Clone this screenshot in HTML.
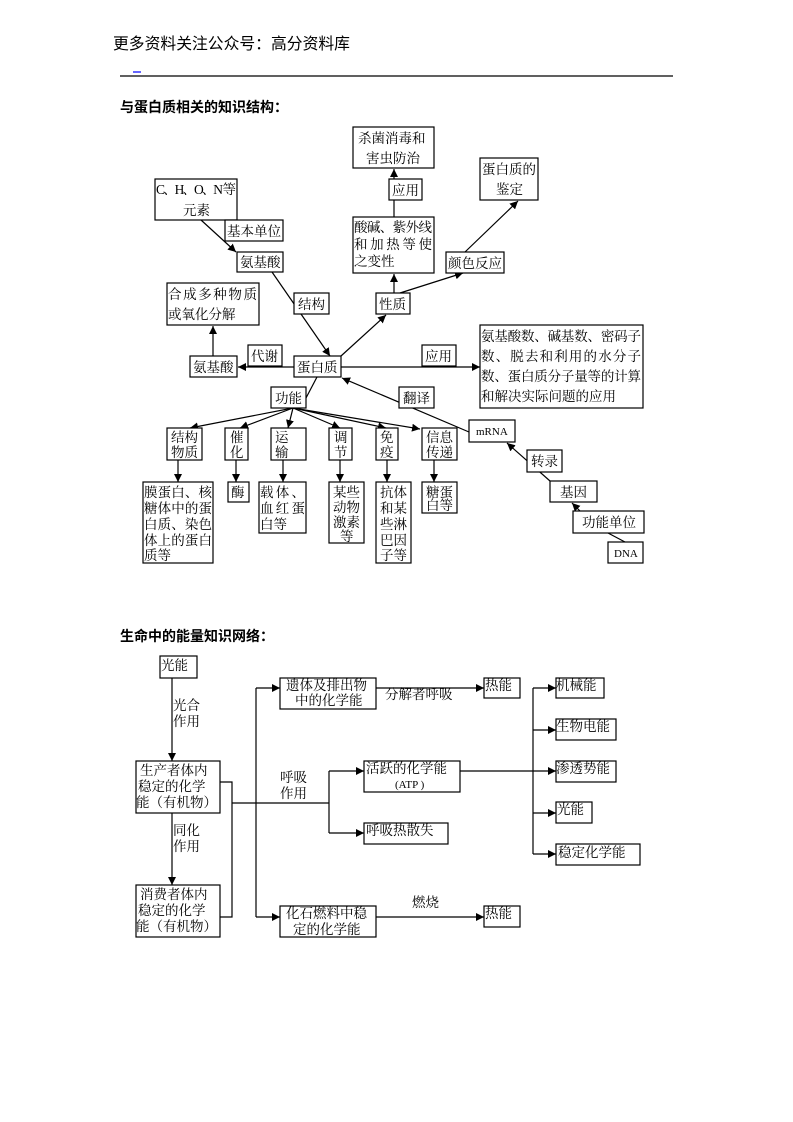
<!DOCTYPE html>
<html><head><meta charset="utf-8"><style>
body{margin:0;background:#fff}
svg{display:block}
text{font-family:"Liberation Serif","Noto Serif CJK SC","Noto Sans CJK SC",serif;font-size:13.5px;fill:#000}
.h{font-family:"Liberation Sans","Noto Sans CJK SC",sans-serif;font-size:15.8px}
.t{font-family:"Liberation Sans","Noto Sans CJK SC",sans-serif;font-size:14px;font-weight:bold}
rect{fill:#fff;stroke:#000;stroke-width:1.2}
line,polyline{stroke:#000;stroke-width:1.2;fill:none}
</style></head><body>
<svg width="793" height="1122" viewBox="0 0 793 1122" xmlns="http://www.w3.org/2000/svg">
<defs><marker id="a" viewBox="0 0 10 10" refX="10" refY="5" markerWidth="8" markerHeight="8" orient="auto" markerUnits="userSpaceOnUse"><path d="M0,0L10,5L0,10z" fill="#000"/></marker></defs>
<text class="h" x="113" y="49">更多资料关注公众号：高分资料库</text>
<line x1="133" y1="72" x2="141" y2="72" style="stroke:#00f"/>
<line x1="120" y1="76" x2="673" y2="76"/>
<text class="t" x="120" y="112">与蛋白质相关的知识结构：</text>

<line x1="394" y1="217" x2="394" y2="169" marker-end="url(#a)"/>
<line x1="465" y1="252" x2="518" y2="201" marker-end="url(#a)"/>
<line x1="201" y1="220" x2="236" y2="252" marker-end="url(#a)"/>
<line x1="272" y1="272" x2="330" y2="356" marker-end="url(#a)"/>
<line x1="341" y1="356" x2="386" y2="315" marker-end="url(#a)"/>
<line x1="394" y1="293" x2="394" y2="274" marker-end="url(#a)"/>
<line x1="400" y1="293" x2="463" y2="273" marker-end="url(#a)"/>
<line x1="213" y1="356" x2="213" y2="326" marker-end="url(#a)"/>
<line x1="294" y1="367" x2="238" y2="367" marker-end="url(#a)"/>
<line x1="341" y1="367" x2="480" y2="367" marker-end="url(#a)"/>
<line x1="317" y1="377" x2="306" y2="398"/>
<line x1="469" y1="432" x2="342" y2="378" marker-end="url(#a)"/>
<line x1="550" y1="481" x2="507" y2="443" marker-end="url(#a)"/>
<line x1="625" y1="542" x2="608" y2="533"/>
<line x1="580" y1="511" x2="572" y2="503" marker-end="url(#a)"/>
<line x1="293" y1="408" x2="190" y2="428" marker-end="url(#a)"/>
<line x1="293" y1="408" x2="240" y2="428" marker-end="url(#a)"/>
<line x1="293" y1="408" x2="288" y2="428" marker-end="url(#a)"/>
<line x1="293" y1="408" x2="340" y2="428" marker-end="url(#a)"/>
<line x1="293" y1="408" x2="386" y2="428" marker-end="url(#a)"/>
<line x1="293" y1="408" x2="420" y2="429" marker-end="url(#a)"/>
<line x1="178" y1="460" x2="178" y2="482" marker-end="url(#a)"/>
<line x1="236" y1="460" x2="236" y2="482" marker-end="url(#a)"/>
<line x1="283" y1="460" x2="283" y2="482" marker-end="url(#a)"/>
<line x1="340" y1="460" x2="340" y2="482" marker-end="url(#a)"/>
<line x1="387" y1="460" x2="387" y2="482" marker-end="url(#a)"/>
<line x1="434" y1="460" x2="434" y2="482" marker-end="url(#a)"/>

<rect x="353" y="127" width="81" height="41"/><text x="358" y="143">杀菌消毒和</text><text x="366" y="163">害虫防治</text>
<rect x="389" y="179" width="33" height="21"/><text x="392" y="195">应用</text>
<rect x="480" y="158" width="58" height="42"/><text x="482" y="174">蛋白质的</text><text x="496" y="194">鉴定</text>
<rect x="155" y="179" width="82" height="41"/><text x="156" y="194" textLength="80">C、H、O、N 等</text><text x="183" y="215">元素</text>
<rect x="225" y="220" width="58" height="21"/><text x="227" y="236">基本单位</text>
<rect x="237" y="252" width="46" height="20"/><text x="240" y="267">氨基酸</text>
<rect x="353" y="217" width="81" height="56"/><text x="354" y="232" textLength="78">酸碱、紫外线</text><text x="354" y="249" textLength="78">和加热等使</text><text x="354" y="266">之变性</text>
<rect x="446" y="252" width="58" height="21"/><text x="448" y="268">颜色反应</text>
<rect x="167" y="283" width="92" height="42"/><text x="168" y="299" textLength="89">合成多种物质</text><text x="168" y="319">或氧化分解</text>
<rect x="294" y="293" width="35" height="21"/><text x="298" y="309">结构</text>
<rect x="376" y="293" width="34" height="21"/><text x="379" y="309">性质</text>
<rect x="480" y="325" width="163" height="83"/>
<text x="481" y="341" textLength="160">氨基酸数、碱基数、密码子</text>
<text x="481" y="361" textLength="160">数、脱去和利用的水分子</text>
<text x="481" y="381" textLength="160">数、蛋白质分子量等的计算</text>
<text x="481" y="401">和解决实际问题的应用</text>
<rect x="248" y="345" width="34" height="21"/><text x="251" y="361">代谢</text>
<rect x="190" y="356" width="47" height="21"/><text x="193" y="372">氨基酸</text>
<rect x="294" y="356" width="47" height="21"/><text x="297" y="372">蛋白质</text>
<rect x="422" y="345" width="34" height="21"/><text x="425" y="361">应用</text>
<rect x="271" y="387" width="35" height="21"/><text x="275" y="403">功能</text>
<rect x="399" y="387" width="35" height="21"/><text x="403" y="403">翻译</text>
<rect x="469" y="420" width="46" height="22"/><text x="476" y="435" style="font-size:11px">mRNA</text>
<rect x="167" y="428" width="35" height="32"/><text x="171" y="442">结构</text><text x="171" y="457">物质</text>
<rect x="225" y="428" width="23" height="32"/><text x="230" y="442">催</text><text x="230" y="457">化</text>
<rect x="271" y="428" width="35" height="32"/><text x="275" y="442">运</text><text x="275" y="457">输</text>
<rect x="329" y="428" width="23" height="32"/><text x="334" y="442">调</text><text x="334" y="457">节</text>
<rect x="376" y="428" width="22" height="32"/><text x="380" y="442">免</text><text x="380" y="457">疫</text>
<rect x="422" y="428" width="35" height="32"/><text x="426" y="442">信息</text><text x="426" y="457">传递</text>
<rect x="527" y="450" width="35" height="22"/><text x="531" y="466">转录</text>
<rect x="143" y="482" width="70" height="81"/><text x="144" y="497" textLength="68">膜蛋白、核</text><text x="144" y="513" textLength="68">糖体中的蛋</text><text x="144" y="529" textLength="68">白质、染色</text><text x="144" y="545" textLength="68">体上的蛋白</text><text x="144" y="560">质等</text>
<rect x="228" y="482" width="21" height="20"/><text x="231" y="497">酶</text>
<rect x="259" y="482" width="47" height="51"/><text x="260" y="497" textLength="45">载体、</text><text x="260" y="513" textLength="45">血红蛋</text><text x="260" y="529">白等</text>
<rect x="329" y="482" width="35" height="61"/><text x="333" y="497">某些</text><text x="333" y="512">动物</text><text x="333" y="527">激素</text><text x="340" y="541">等</text>
<rect x="376" y="482" width="35" height="81"/><text x="380" y="497">抗体</text><text x="380" y="513">和某</text><text x="380" y="529">些淋</text><text x="380" y="545">巴因</text><text x="380" y="560">子等</text>
<rect x="422" y="482" width="35" height="31"/><text x="426" y="497">糖蛋</text><text x="426" y="510">白等</text>
<rect x="550" y="481" width="47" height="21"/><text x="560" y="497">基因</text>
<rect x="573" y="511" width="71" height="22"/><text x="582" y="527">功能单位</text>
<rect x="608" y="542" width="35" height="21"/><text x="614" y="557" style="font-size:11px">DNA</text>

<text class="t" x="120" y="641">生命中的能量知识网络：</text>

<line x1="172" y1="678" x2="172" y2="761" marker-end="url(#a)"/>
<line x1="172" y1="813" x2="172" y2="885" marker-end="url(#a)"/>
<polyline points="220,782 232,782 232,917 220,917"/>
<line x1="232" y1="803" x2="329" y2="803"/>
<line x1="256" y1="688" x2="256" y2="917"/>
<line x1="256" y1="688" x2="280" y2="688" marker-end="url(#a)"/>
<line x1="256" y1="917" x2="280" y2="917" marker-end="url(#a)"/>
<line x1="329" y1="771" x2="329" y2="833"/>
<line x1="329" y1="771" x2="364" y2="771" marker-end="url(#a)"/>
<line x1="329" y1="833" x2="364" y2="833" marker-end="url(#a)"/>
<line x1="376" y1="688" x2="484" y2="688" marker-end="url(#a)"/>
<line x1="376" y1="917" x2="484" y2="917" marker-end="url(#a)"/>
<line x1="460" y1="771" x2="556" y2="771" marker-end="url(#a)"/>
<line x1="533" y1="688" x2="533" y2="854"/>
<line x1="533" y1="688" x2="556" y2="688" marker-end="url(#a)"/>
<line x1="533" y1="730" x2="556" y2="730" marker-end="url(#a)"/>
<line x1="533" y1="813" x2="556" y2="813" marker-end="url(#a)"/>
<line x1="533" y1="854" x2="556" y2="854" marker-end="url(#a)"/>

<rect x="160" y="656" width="37" height="22"/><text x="161" y="670">光能</text>
<text x="173" y="710">光合</text><text x="173" y="726">作用</text>
<rect x="136" y="761" width="84" height="52"/><text x="140" y="775">生产者体内</text><text x="138" y="791">稳定的化学</text><text x="136" y="807">能（有机物）</text>
<text x="173" y="835">同化</text><text x="173" y="851">作用</text>
<rect x="136" y="885" width="84" height="52"/><text x="140" y="899">消费者体内</text><text x="138" y="915">稳定的化学</text><text x="136" y="931">能（有机物）</text>
<text x="280" y="782">呼吸</text><text x="280" y="798">作用</text>
<rect x="280" y="678" width="96" height="31"/><text x="286" y="690">遗体及排出物</text><text x="295" y="705">中的化学能</text>
<text x="385" y="699">分解者呼吸</text>
<rect x="484" y="678" width="36" height="20"/><text x="485" y="690">热能</text>
<rect x="364" y="761" width="96" height="31"/><text x="366" y="773">活跃的化学能</text><text x="395" y="788" style="font-size:11px">(ATP )</text>
<rect x="364" y="823" width="84" height="21"/><text x="366" y="835">呼吸热散失</text>
<rect x="280" y="906" width="96" height="31"/><text x="286" y="918">化石燃料中稳</text><text x="293" y="934">定的化学能</text>
<text x="412" y="907">燃烧</text>
<rect x="484" y="906" width="36" height="21"/><text x="485" y="918">热能</text>
<rect x="556" y="678" width="48" height="20"/><text x="556" y="690">机械能</text>
<rect x="556" y="719" width="60" height="21"/><text x="556" y="731">生物电能</text>
<rect x="556" y="761" width="60" height="21"/><text x="556" y="773">渗透势能</text>
<rect x="556" y="802" width="36" height="21"/><text x="557" y="814">光能</text>
<rect x="556" y="844" width="84" height="21"/><text x="558" y="857">稳定化学能</text>
</svg>
</body></html>
